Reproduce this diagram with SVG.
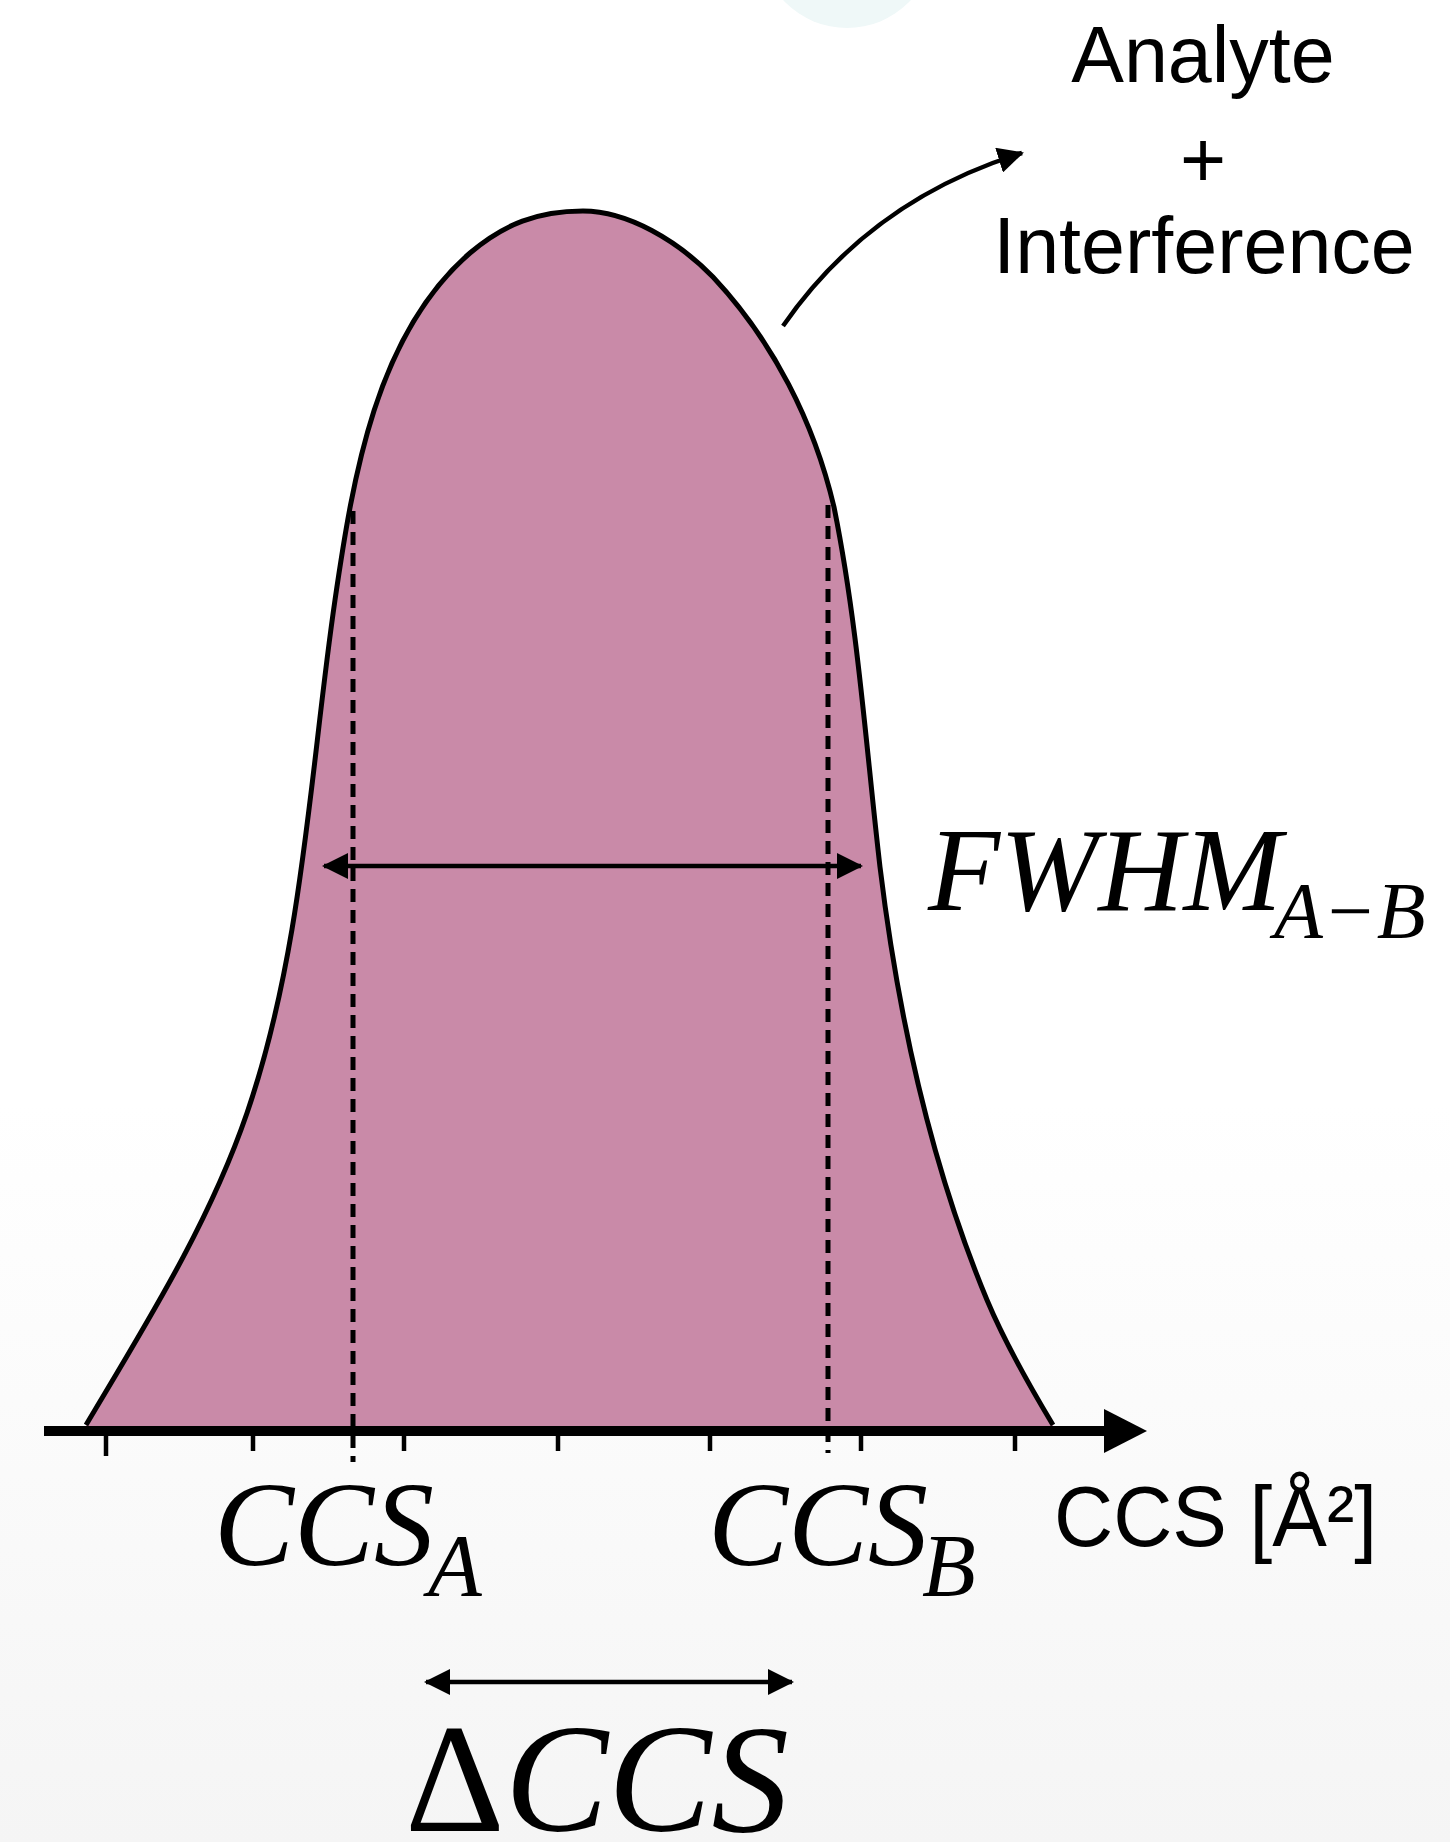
<svg xmlns="http://www.w3.org/2000/svg" width="1450" height="1842" viewBox="0 0 1450 1842">
  <defs>
    <linearGradient id="bg" x1="0" y1="0" x2="0" y2="1">
      <stop offset="0" stop-color="#ffffff"/>
      <stop offset="0.6" stop-color="#ffffff"/>
      <stop offset="1" stop-color="#f5f5f5"/>
    </linearGradient>
    <marker id="head" viewBox="0 0 26 26" markerWidth="26" markerHeight="26" refX="24" refY="13" markerUnits="userSpaceOnUse" orient="auto-start-reverse">
      <path d="M0,0 L26,13 L0,26 Z" fill="#000"/>
    </marker>
  </defs>
  <style>
    .sans { font-family: "Liberation Sans", Arial, Helvetica, sans-serif; fill: #000; }
    .math { font-family: "Liberation Serif", "Times New Roman", serif; font-style: italic; fill: #000; }
    .up { font-family: "Liberation Serif", "Times New Roman", serif; fill: #000; }
    .arrow { fill: none; stroke: #000; stroke-width: 4.5; }
    .dash { stroke: #000; stroke-width: 5; stroke-dasharray: 13 8; }
    .tick { stroke: #000; stroke-width: 4.5; }
  </style>

  <rect x="0" y="0" width="1450" height="1842" fill="url(#bg)"/>
  <circle cx="847" cy="-59" r="87" fill="#eff8f8"/>

  <g id="peak">
    <path d="M86,1428 L86,1425 C146,1324 209,1224 247,1113 C303,950 310,771 335,600 C353,477 376,334 470,253 C504,224 538,211 583,211 C628,211 678,241 713,277 C773,341 814,422 834,507 C858,626 866,747 880,867 C898,1015 930,1163 987,1300 C1005,1343 1029,1385 1053,1425 L1053,1428 Z" fill="#c98aa8"/>
    <path d="M86,1425 C146,1324 209,1224 247,1113 C303,950 310,771 335,600 C353,477 376,334 470,253 C504,224 538,211 583,211 C628,211 678,241 713,277 C773,341 814,422 834,507 C858,626 866,747 880,867 C898,1015 930,1163 987,1300 C1005,1343 1029,1385 1053,1425" fill="none" stroke="#000" stroke-width="5" stroke-linejoin="round"/>
  </g>

  <g id="guides">
    <line class="dash" x1="353" y1="511" x2="353" y2="1462"/>
    <line class="dash" x1="828" y1="505" x2="828" y2="1453"/>
  </g>

  <g id="axis">
    <line x1="44" y1="1431" x2="1106" y2="1431" stroke="#000" stroke-width="10"/>
    <polygon points="1104,1409 1147,1431 1104,1453" fill="#000"/>
    <line class="tick" x1="106" y1="1431" x2="106" y2="1456"/>
    <line class="tick" x1="253" y1="1431" x2="253" y2="1451"/>
    <line class="tick" x1="404" y1="1431" x2="404" y2="1451"/>
    <line class="tick" x1="558" y1="1431" x2="558" y2="1451"/>
    <line class="tick" x1="710" y1="1431" x2="710" y2="1451"/>
    <line class="tick" x1="861" y1="1431" x2="861" y2="1451"/>
    <line class="tick" x1="1015" y1="1431" x2="1015" y2="1451"/>
  </g>

  <g id="connectors">
    <path class="arrow" d="M783,326 Q870,200 1022,153" marker-end="url(#head)"/>
    <line class="arrow" x1="324" y1="866" x2="861" y2="866" marker-start="url(#head)" marker-end="url(#head)"/>
    <line class="arrow" x1="426" y1="1682" x2="792" y2="1682" marker-start="url(#head)" marker-end="url(#head)"/>
  </g>

  <g id="label-analyte">
    <text class="sans" x="1203" y="82" font-size="79" text-anchor="middle">Analyte</text>
    <text class="sans" x="1203" y="187" font-size="79" text-anchor="middle">+</text>
    <text class="sans" x="1204" y="273" font-size="79" text-anchor="middle">Interference</text>
  </g>

  <g id="label-fwhm">
    <text class="math" x="928" y="910" font-size="118">FWHM</text>
    <text class="math" x="1274" y="938" font-size="80">A−B</text>
  </g>

  <g id="label-ccsa">
    <text class="math" x="214" y="1565" font-size="120">CCS</text>
    <text class="math" x="428" y="1595" font-size="88">A</text>
  </g>

  <g id="label-ccsb">
    <text class="math" x="708" y="1565" font-size="120">CCS</text>
    <text class="math" x="922" y="1595" font-size="88">B</text>
  </g>

  <g id="label-axis">
    <text class="sans" x="1054" y="1546" font-size="86" textLength="323" lengthAdjust="spacingAndGlyphs">CCS [Å²]</text>
  </g>

  <g id="label-delta">
    <text x="405" y="1831" font-size="155"><tspan class="up">Δ</tspan><tspan class="math">CCS</tspan></text>
  </g>
</svg>
